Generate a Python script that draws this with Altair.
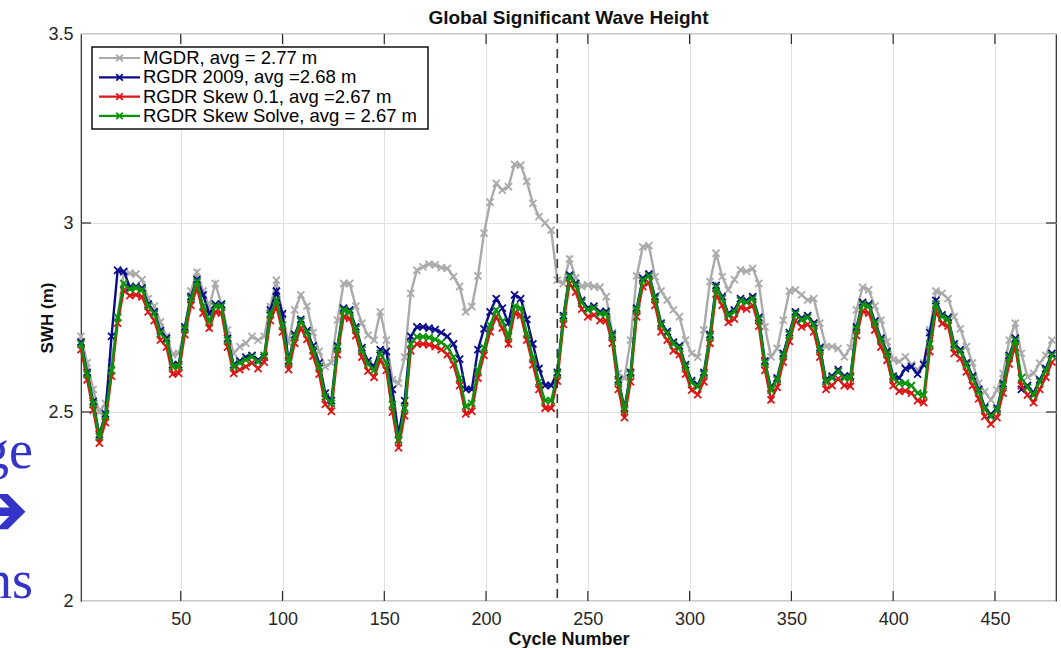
import altair as alt
import pandas as pd

# ---------------- data ----------------
cycles = list(range(1, 479, 3))

mgdr = [
    2.700, 2.630, 2.560, 2.500, 2.523, 2.630, 2.752, 2.870, 2.867, 2.865,
    2.850, 2.800, 2.780, 2.738, 2.700, 2.652, 2.655, 2.717, 2.820, 2.870,
    2.820, 2.779, 2.840, 2.785, 2.717, 2.655, 2.673, 2.682, 2.700, 2.690,
    2.700, 2.779, 2.849, 2.755, 2.682, 2.770, 2.810, 2.780, 2.710, 2.660,
    2.620, 2.630, 2.743, 2.840, 2.840, 2.780, 2.735, 2.703, 2.690, 2.765,
    2.690, 2.585, 2.576, 2.645, 2.814, 2.875, 2.884, 2.891, 2.889, 2.882,
    2.880, 2.858, 2.832, 2.765, 2.779, 2.860, 2.973, 3.055, 3.105, 3.087,
    3.096, 3.155, 3.153, 3.110, 3.052, 3.017, 3.000, 2.981, 2.849, 2.840,
    2.905, 2.855, 2.832, 2.836, 2.832, 2.830, 2.805, 2.710, 2.602, 2.590,
    2.690, 2.860, 2.937, 2.940, 2.858, 2.820, 2.796, 2.770, 2.752, 2.690,
    2.655, 2.645, 2.717, 2.845, 2.920, 2.858, 2.823, 2.850, 2.876, 2.872,
    2.880, 2.840, 2.725, 2.646, 2.668, 2.743, 2.820, 2.823, 2.810, 2.796,
    2.800, 2.735, 2.673, 2.673, 2.668, 2.646, 2.670, 2.770, 2.830, 2.823,
    2.780, 2.743, 2.686, 2.638, 2.634, 2.646, 2.625, 2.611, 2.630, 2.717,
    2.820, 2.814, 2.800, 2.752, 2.720, 2.673, 2.630, 2.576, 2.553, 2.532,
    2.558, 2.602, 2.690, 2.735, 2.655, 2.593, 2.602, 2.629, 2.650, 2.690,
]

rgdr_2009 = [
    2.685, 2.605, 2.528, 2.440, 2.495, 2.700, 2.875, 2.872, 2.830, 2.832,
    2.828, 2.785, 2.765, 2.715, 2.695, 2.625, 2.625, 2.725, 2.805, 2.850,
    2.810, 2.760, 2.785, 2.785, 2.695, 2.625, 2.635, 2.645, 2.650, 2.638,
    2.645, 2.770, 2.820, 2.760, 2.635, 2.705, 2.745, 2.715, 2.675, 2.630,
    2.550, 2.530, 2.675, 2.775, 2.770, 2.725, 2.670, 2.635, 2.620, 2.665,
    2.660, 2.560, 2.440, 2.530, 2.700, 2.725, 2.725, 2.722, 2.718, 2.710,
    2.700, 2.680, 2.640, 2.560, 2.560, 2.665, 2.720, 2.765, 2.800, 2.775,
    2.735, 2.810, 2.800, 2.745, 2.680, 2.615, 2.570, 2.570, 2.605, 2.755,
    2.862, 2.840, 2.795, 2.775, 2.780, 2.765, 2.766, 2.705, 2.585, 2.510,
    2.605, 2.775, 2.854, 2.865, 2.805, 2.735, 2.713, 2.685, 2.675, 2.625,
    2.583, 2.572, 2.605, 2.705, 2.835, 2.805, 2.760, 2.770, 2.800, 2.795,
    2.805, 2.750, 2.635, 2.563, 2.590, 2.655, 2.710, 2.765, 2.748, 2.755,
    2.735, 2.670, 2.585, 2.595, 2.612, 2.595, 2.595, 2.725, 2.790, 2.785,
    2.740, 2.695, 2.660, 2.595, 2.590, 2.615, 2.620, 2.600, 2.625, 2.710,
    2.795, 2.757, 2.750, 2.680, 2.665, 2.630, 2.595, 2.560, 2.513, 2.493,
    2.510, 2.575, 2.650, 2.695, 2.560, 2.570, 2.550, 2.585, 2.615, 2.655,
]

rgdr_skew01 = [
    2.665, 2.585, 2.505, 2.418, 2.472, 2.595, 2.735, 2.822, 2.808, 2.810,
    2.805, 2.765, 2.742, 2.690, 2.672, 2.600, 2.602, 2.705, 2.782, 2.828,
    2.762, 2.722, 2.765, 2.762, 2.672, 2.602, 2.612, 2.620, 2.630, 2.615,
    2.632, 2.742, 2.780, 2.712, 2.612, 2.682, 2.722, 2.692, 2.648, 2.600,
    2.520, 2.502, 2.652, 2.752, 2.748, 2.702, 2.645, 2.608, 2.592, 2.638,
    2.610, 2.500, 2.405, 2.490, 2.662, 2.680, 2.680, 2.678, 2.673, 2.665,
    2.652, 2.625, 2.570, 2.495, 2.502, 2.590, 2.650, 2.712, 2.752, 2.722,
    2.680, 2.762, 2.756, 2.690, 2.625, 2.560, 2.510, 2.510, 2.582, 2.732,
    2.840, 2.817, 2.772, 2.752, 2.757, 2.742, 2.742, 2.682, 2.560, 2.485,
    2.580, 2.752, 2.832, 2.842, 2.782, 2.712, 2.690, 2.662, 2.652, 2.600,
    2.558, 2.546, 2.580, 2.682, 2.812, 2.782, 2.737, 2.746, 2.777, 2.772,
    2.782, 2.727, 2.610, 2.532, 2.565, 2.632, 2.687, 2.742, 2.725, 2.732,
    2.712, 2.645, 2.560, 2.570, 2.588, 2.570, 2.568, 2.702, 2.767, 2.762,
    2.717, 2.672, 2.637, 2.570, 2.555, 2.556, 2.550, 2.530, 2.525, 2.660,
    2.767, 2.734, 2.727, 2.655, 2.642, 2.606, 2.570, 2.535, 2.488, 2.468,
    2.485, 2.550, 2.627, 2.672, 2.570, 2.545, 2.525, 2.560, 2.592, 2.632,
]

rgdr_skew_solve = [
    2.680, 2.600, 2.523, 2.435, 2.490, 2.610, 2.750, 2.840, 2.825, 2.828,
    2.823, 2.780, 2.760, 2.708, 2.690, 2.620, 2.620, 2.720, 2.800, 2.845,
    2.780, 2.740, 2.780, 2.780, 2.690, 2.620, 2.630, 2.638, 2.646, 2.633,
    2.650, 2.760, 2.796, 2.730, 2.630, 2.700, 2.740, 2.710, 2.664, 2.620,
    2.540, 2.523, 2.670, 2.770, 2.765, 2.720, 2.664, 2.627, 2.610, 2.655,
    2.630, 2.520, 2.426, 2.510, 2.680, 2.699, 2.699, 2.697, 2.692, 2.684,
    2.672, 2.645, 2.590, 2.515, 2.523, 2.610, 2.670, 2.730, 2.770, 2.740,
    2.700, 2.780, 2.775, 2.708, 2.645, 2.580, 2.530, 2.530, 2.600, 2.750,
    2.858, 2.835, 2.790, 2.770, 2.775, 2.760, 2.761, 2.700, 2.580, 2.505,
    2.600, 2.770, 2.849, 2.860, 2.800, 2.730, 2.708, 2.680, 2.670, 2.620,
    2.578, 2.567, 2.600, 2.700, 2.830, 2.800, 2.755, 2.765, 2.795, 2.790,
    2.800, 2.745, 2.630, 2.558, 2.585, 2.650, 2.705, 2.760, 2.743, 2.750,
    2.730, 2.665, 2.580, 2.590, 2.607, 2.590, 2.590, 2.720, 2.785, 2.780,
    2.735, 2.690, 2.655, 2.590, 2.576, 2.576, 2.570, 2.550, 2.545, 2.680,
    2.785, 2.752, 2.745, 2.673, 2.660, 2.625, 2.590, 2.555, 2.508, 2.488,
    2.505, 2.570, 2.645, 2.690, 2.590, 2.565, 2.545, 2.580, 2.610, 2.650,
]

series_labels = [
    "MGDR, avg = 2.77 m",
    "RGDR 2009, avg =2.68 m",
    "RGDR Skew 0.1, avg =2.67 m",
    "RGDR Skew Solve, avg = 2.67 m",
]
series_colors = ["#aaaaaa", "#0a0a8c", "#dd1515", "#0a940a"]
series_values = [mgdr, rgdr_2009, rgdr_skew01, rgdr_skew_solve]

x_ticks = [50, 100, 150, 200, 250, 300, 350, 400, 450]
y_ticks = [2.0, 2.5, 3.0, 3.5]
y_inner_ticks = [2.5, 3.0]
event_cycle = [235]

title_text = "Global Significant Wave Height"
x_title = "Cycle Number"
y_title = "SWH (m)"
slide_fragments = ["ge", "\u2794", "ns"]

# ---------------- layout / style ----------------
W, H = 975, 567
FONT = "Liberation Sans"
X_PATH = "M-1,-1L1,1M-1,1L1,-1"
FRAME = "#2a2a2a"
GRID = "#e0e0e0"

rows = []
for lab, vals in zip(series_labels, series_values):
    for c, v in zip(cycles, vals):
        rows.append({"cycle": c, "swh": v, "series": lab})
df = pd.DataFrame(rows)
one = pd.DataFrame({"k": [0]})

xs = alt.Scale(domain=[1, 480], nice=False, zero=False)
ys = alt.Scale(domain=[2, 3.5], nice=False, zero=False)
cs = alt.Scale(domain=series_labels, range=series_colors)

x_axis = alt.Axis(
    values=x_ticks, format="d", grid=True, gridColor=GRID, gridWidth=1,
    ticks=False, domain=False, labelFont=FONT, labelFontSize=18,
    labelColor="#262626", labelPadding=9,
    title=x_title, titleFont=FONT, titleFontSize=18, titleFontWeight="bold",
    titleColor="#111111", titleBaseline="alphabetic", titleY=43, titleX=W / 2,
)
y_axis = alt.Axis(
    values=y_ticks, format="~g", grid=True, gridColor=GRID, gridWidth=1,
    ticks=False, domain=False, labelFont=FONT, labelFontSize=18,
    labelColor="#262626", labelPadding=8,
    title=y_title, titleFont=FONT, titleFontSize=17, titleFontWeight="bold",
    titleColor="#111111", titleX=-34, titleY=H / 2, titleAngle=270,
    titleAlign="center", titleBaseline="middle",
)

X = alt.X("cycle:Q", scale=xs, axis=x_axis)
Y = alt.Y("swh:Q", scale=ys, axis=y_axis)

layers = []
for i, lab in enumerate(series_labels):
    base = alt.Chart(df).transform_filter(alt.datum.series == lab)
    enc = dict(x=X, y=Y, color=alt.Color("series:N", scale=cs, legend=None))
    layers.append(base.mark_line(strokeWidth=2.4).encode(**enc))
    layers.append(
        base.mark_point(shape=X_PATH, filled=False, size=50, strokeWidth=1.8, opacity=1)
        .encode(**enc)
    )

# dashed event line
layers.append(
    alt.Chart(pd.DataFrame({"cycle": event_cycle}))
    .mark_rule(color="#333333", strokeWidth=1.6, strokeDash=[9, 6])
    .encode(x=X)
)

# inward ticks on all four sides
tx = pd.DataFrame({"cycle": x_ticks})
ty = pd.DataFrame({"swh": y_inner_ticks})
layers.append(alt.Chart(tx).mark_rule(color=FRAME, strokeWidth=1.2).encode(
    x=X, y=alt.value(H), y2=alt.value(H - 10)))
layers.append(alt.Chart(tx).mark_rule(color=FRAME, strokeWidth=1.2).encode(
    x=X, y=alt.value(0), y2=alt.value(10)))
layers.append(alt.Chart(ty).mark_rule(color=FRAME, strokeWidth=1.2).encode(
    y=Y, x=alt.value(0), x2=alt.value(10)))
layers.append(alt.Chart(ty).mark_rule(color=FRAME, strokeWidth=1.2).encode(
    y=Y, x=alt.value(W), x2=alt.value(W - 10)))

# legend box
layers.append(
    alt.Chart(one).mark_rect(fill="white", stroke="#111111", strokeWidth=1.5)
    .encode(x=alt.value(11), x2=alt.value(347), y=alt.value(13), y2=alt.value(95))
)
for i, (lab, col) in enumerate(zip(series_labels, series_colors)):
    yy = 24 + i * 19.3
    layers.append(alt.Chart(one).mark_rule(color=col, strokeWidth=2.2).encode(
        x=alt.value(18), x2=alt.value(59), y=alt.value(yy)))
    layers.append(alt.Chart(one).mark_point(
        shape=X_PATH, filled=False, size=42, strokeWidth=1.8, color=col, opacity=1
    ).encode(x=alt.value(38.5), y=alt.value(yy)))
    layers.append(alt.Chart(one).mark_text(
        text=lab, align="left", baseline="middle", font=FONT, fontSize=18.5, color="black"
    ).encode(x=alt.value(62), y=alt.value(yy)))

# cut-off slide text on the far left
SLIDE_BLUE = "#3434c8"
layers.append(alt.Chart(one).mark_text(
    text=slide_fragments[0], align="right", baseline="alphabetic",
    font="Liberation Serif", fontSize=54, color=SLIDE_BLUE
).encode(x=alt.value(-48), y=alt.value(434)))
layers.append(alt.Chart(one).mark_text(
    text=slide_fragments[1], align="right", baseline="middle",
    font="DejaVu Sans", fontSize=74, color=SLIDE_BLUE
).encode(x=alt.value(-52), y=alt.value(479)))
layers.append(alt.Chart(one).mark_text(
    text=slide_fragments[2], align="right", baseline="alphabetic",
    font="Liberation Serif", fontSize=54, color=SLIDE_BLUE
).encode(x=alt.value(-48), y=alt.value(564)))

chart = (
    alt.layer(*layers)
    .properties(
        width=W,
        height=H,
        title=alt.TitleParams(
            text=title_text, font=FONT, fontSize=19, fontWeight="bold",
            color="#111111", anchor="middle", offset=-3,
        ),
        autosize=alt.AutoSizeParams(type="none"),
        padding={"left": 81, "top": 34, "right": 5, "bottom": 47},
        background="white",
    )
    .configure_view(stroke=FRAME, strokeWidth=1.2)
)

chart.save("out.html", embed_options={"renderer": "svg", "actions": False})
